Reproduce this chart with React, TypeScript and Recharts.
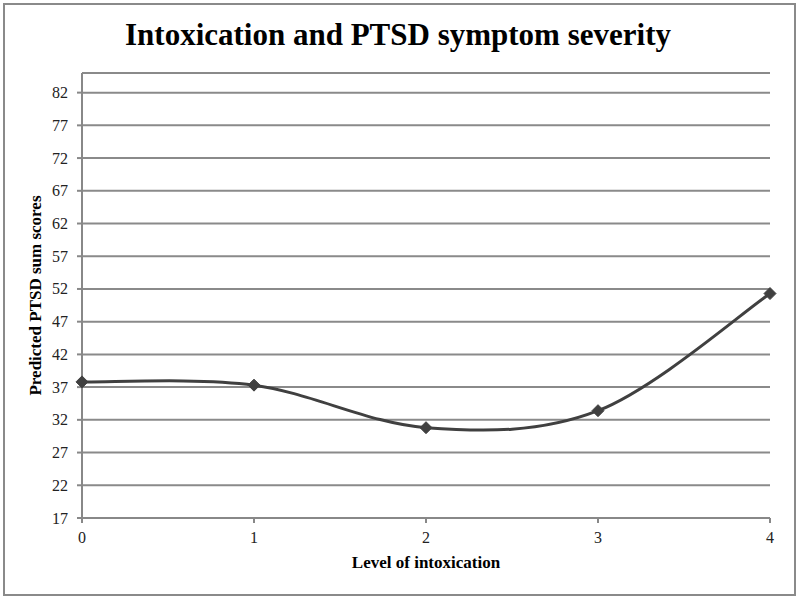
import React from 'react';
import { LineChart, Line, XAxis, YAxis, CartesianGrid, Customized, Label } from 'recharts';

const levels = [0, 1, 2, 3, 4];
const scores = [37.8, 37.3, 30.8, 33.4, 51.3];
const yTicks = [17, 22, 27, 32, 37, 42, 47, 52, 57, 62, 67, 72, 77, 82];
const title = 'Intoxication and PTSD symptom severity';
const xTitle = 'Level of intoxication';
const yTitle = 'Predicted PTSD sum scores';

const data = levels.map((x, i) => ({ x, y: scores[i] }));

const SERIF = "'Liberation Serif', 'Times New Roman', serif";

// Excel-style smoothed line (Catmull-Rom / Bezier with 1/6 tension)
function excelCurve(context: any) {
  let pts: [number, number][] = [];
  return {
    areaStart() {},
    areaEnd() {},
    lineStart() { pts = []; },
    point(x: number, y: number) { pts.push([+x, +y]); },
    lineEnd() {
      if (!pts.length) return;
      context.moveTo(pts[0][0], pts[0][1]);
      for (let i = 0; i < pts.length - 1; i++) {
        const p0 = pts[i - 1] || pts[i];
        const p1 = pts[i];
        const p2 = pts[i + 1];
        const p3 = pts[i + 2] || pts[i + 1];
        const c1x = p1[0] + (p2[0] - p0[0]) / 6;
        const c1y = p1[1] + (p2[1] - p0[1]) / 6;
        const c2x = p2[0] - (p3[0] - p1[0]) / 6;
        const c2y = p2[1] - (p3[1] - p1[1]) / 6;
        context.bezierCurveTo(c1x, c1y, c2x, c2y, p2[0], p2[1]);
      }
    },
  };
}

const Diamond = (props: any) => {
  const { cx, cy } = props;
  if (cx == null || cy == null) return null;
  const r = 6;
  return (
    <polygon
      points={`${cx},${cy - r} ${cx + r},${cy} ${cx},${cy + r} ${cx - r},${cy}`}
      fill="#404040"
      stroke="#404040"
      strokeWidth={1}
    />
  );
};

const Title = () => (
  <text x={398} y={45} textAnchor="middle" fontFamily={SERIF} fontWeight="bold" fontSize={31} fill="#000">
    {title}
  </text>
);

const XTick = (props: any) => {
  const { x, y, payload } = props;
  return (
    <text x={x} y={y + 13} textAnchor="middle" fontFamily={SERIF} fontSize={16} fill="#222">
      {payload.value}
    </text>
  );
};

const YTick = (props: any) => {
  const { x, y, payload } = props;
  return (
    <text x={x} y={y + 5.5} textAnchor="end" fontFamily={SERIF} fontSize={16} fill="#222">
      {payload.value}
    </text>
  );
};

const axisLine = { stroke: '#888', strokeWidth: 2 };

export default function App() {
  return (
    <div style={{ position: 'absolute', left: 0, top: 0, width: 800, height: 598, background: '#fff' }}>
      <div
        style={{
          position: 'absolute',
          left: 3,
          top: 3,
          width: 789,
          height: 589,
          border: '2px solid #8a8a8a',
        }}
      />
      <LineChart
        width={800}
        height={598}
        data={data}
        margin={{ top: 73, right: 30, bottom: 20, left: 22 }}
        style={{ position: 'absolute', left: 0, top: 0 }}
      >
        <CartesianGrid horizontal vertical={false} stroke="#8a8a8a" strokeWidth={2} />
        <XAxis
          dataKey="x"
          type="number"
          domain={[0, 4]}
          ticks={levels}
          interval={0}
          height={60}
          tickSize={5}
          tickMargin={7}
          axisLine={axisLine}
          tickLine={axisLine}
          tick={<XTick />}
        >
          <Label
            value={xTitle}
            position="insideBottom"
            offset={10}
            style={{ fontFamily: SERIF, fontSize: 17, fontWeight: 'bold', fill: '#000' }}
          />
        </XAxis>
        <YAxis
          type="number"
          domain={[17, 85]}
          ticks={yTicks}
          interval={0}
          width={60}
          tickSize={5}
          tickMargin={9}
          axisLine={axisLine}
          tickLine={axisLine}
          tick={<YTick />}
        >
          <Label
            value={yTitle}
            position="insideLeft"
            angle={-90}
            offset={13}
            style={{ textAnchor: 'middle', fontFamily: SERIF, fontSize: 17, fontWeight: 'bold', fill: '#000' }}
          />
        </YAxis>
        <Line
          dataKey="y"
          type={excelCurve as any}
          stroke="#404040"
          strokeWidth={3}
          dot={<Diamond />}
          activeDot={false}
          isAnimationActive={false}
        />
        <Customized component={Title} />
      </LineChart>
    </div>
  );
}
